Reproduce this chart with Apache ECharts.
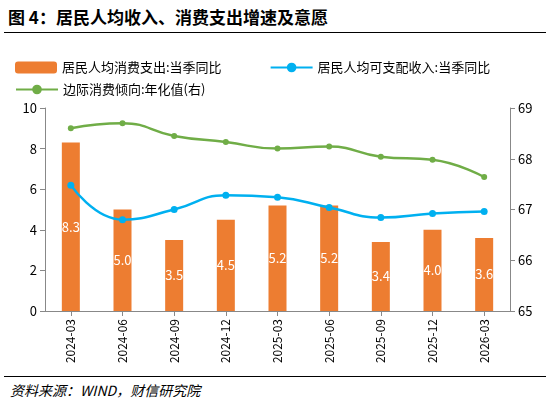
<!DOCTYPE html>
<html>
<head>
<meta charset="utf-8">
<style>
  body { margin: 0; background: #fff; }
  #title { position: absolute; left: 8px; top: 4px; font: bold 17px "Noto Sans CJK SC"; color: #000; }
  #line1 { position: absolute; left: 4px; right: 4px; top: 32px; border-top: 1.5px solid #000; }
  #line2 { position: absolute; left: 4px; right: 4px; top: 376px; border-top: 1px solid #000; }
  #src { position: absolute; left: 10px; top: 380px; font: italic 14px "Noto Sans CJK SC"; color: #000; }
  #chart { position: absolute; left: 0; top: 36px; width: 550px; height: 340px; }
</style>
</head>
<body>
<div id="title">图 4：居民人均收入、消费支出增速及意愿</div>
<div id="line1"></div>
<div id="chart"></div>
<div id="line2"></div>
<div id="src">资料来源：WIND，财信研究院</div>
<script src="https://cdn.jsdelivr.net/npm/echarts@6/dist/echarts.min.js"></script>
<script>
var categories = ['2024-03','2024-06','2024-09','2024-12','2025-03','2025-06','2025-09','2025-12','2026-03'];
var consumption = [8.3, 5.0, 3.5, 4.5, 5.2, 5.2, 3.4, 4.0, 3.6];
var income = [6.2, 4.5, 5.0, 5.7, 5.6, 5.1, 4.6, 4.8, 4.9];
var propensity = [68.6, 68.7, 68.45, 68.33, 68.2, 68.24, 68.04, 67.98, 67.64];

var chart = echarts.init(document.getElementById('chart'));
chart.setOption({
  animation: false,
  textStyle: { fontFamily: 'Noto Sans CJK SC' },
  legend: [
    { left: 10, top: 20, itemWidth: 42, itemHeight: 12, itemGap: 48, textStyle: { fontSize: 13, color: '#000' },
      data: ['居民人均消费支出:当季同比', '居民人均可支配收入:当季同比'] },
    { left: 10, top: 42, itemWidth: 42, itemHeight: 12, textStyle: { fontSize: 13, color: '#000' },
      data: ['边际消费倾向:年化值(右)'] }
  ],
  grid: { left: 45, right: 40, top: 72, bottom: 65 },
  xAxis: {
    type: 'category', data: categories,
    axisLine: { lineStyle: { color: '#888' } },
    axisTick: { show: true, alignWithLabel: true },
    axisLabel: { rotate: 90, color: '#000', fontSize: 12 }
  },
  yAxis: [
    { type: 'value', min: 0, max: 10, interval: 2, splitLine: { show: false },
      axisLine: { show: true, lineStyle: { color: '#888' } }, axisTick: { show: true },
      axisLabel: { color: '#000', fontSize: 13 } },
    { type: 'value', min: 65, max: 69, interval: 1, splitLine: { show: false },
      axisLine: { show: true, lineStyle: { color: '#888' } }, axisTick: { show: true },
      axisLabel: { color: '#000', fontSize: 13 } }
  ],
  series: [
    { name: '居民人均消费支出:当季同比', type: 'bar', data: consumption, barWidth: 18,
      itemStyle: { color: '#ED7D31' },
      label: { show: true, position: 'inside', color: '#fff', fontSize: 13,
        formatter: function (p) { return p.value.toFixed(1); } } },
    { name: '居民人均可支配收入:当季同比', type: 'line', data: income, smooth: true,
      symbol: 'circle', symbolSize: 7, lineStyle: { color: '#00B0F0', width: 2.5 },
      itemStyle: { color: '#00B0F0' } },
    { name: '边际消费倾向:年化值(右)', type: 'line', yAxisIndex: 1, data: propensity, smooth: true,
      symbol: 'circle', symbolSize: 6, lineStyle: { color: '#70AD47', width: 2.5 },
      itemStyle: { color: '#70AD47' } }
  ]
});
</script>
</body>
</html>
